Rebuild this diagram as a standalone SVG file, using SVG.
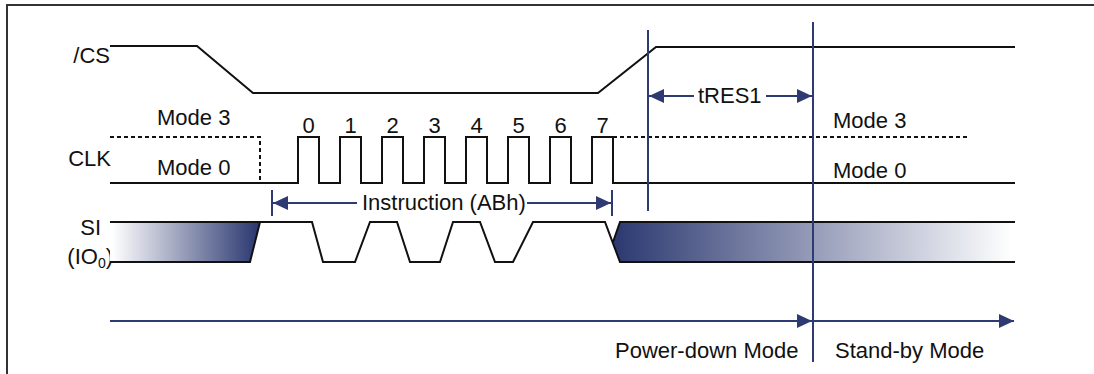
<svg xmlns="http://www.w3.org/2000/svg" width="1094" height="374" viewBox="0 0 1094 374">
<style>
text{font-family:"Liberation Sans",Arial,sans-serif;font-size:22px;fill:#111}
.sig{fill:none;stroke:#111;stroke-width:2;stroke-linejoin:miter}
.dot{fill:none;stroke:#111;stroke-width:2;stroke-dasharray:4 3}
.nv{fill:none;stroke:#2E3B72;stroke-width:2}
.end{text-anchor:end}
</style>
<defs>
<linearGradient id="gL" gradientUnits="userSpaceOnUse" x1="112" y1="0" x2="256" y2="0">
<stop offset="0" stop-color="#ffffff"/>
<stop offset="1" stop-color="#2E3B72"/>
</linearGradient>
<linearGradient id="gR" gradientUnits="userSpaceOnUse" x1="618" y1="0" x2="1012" y2="0">
<stop offset="0" stop-color="#2E3B72"/>
<stop offset="1" stop-color="#ffffff"/>
</linearGradient>
<marker id="ah" viewBox="0 0 15 14" refX="15" refY="7" markerWidth="15" markerHeight="14" markerUnits="userSpaceOnUse" orient="auto-start-reverse">
<path d="M0,0 L15,7 L0,14 Z" fill="#2E3B72"/>
</marker>
</defs>
<rect x="7" y="5" width="1100" height="400" fill="#fff" stroke="#333" stroke-width="2"/>

<g id="cs">
<text class="end" x="110" y="63">/CS</text>
<polyline class="sig" points="110,46 197,46 253,93 598,93 656,47 1015,47"/>
</g>

<g id="clk">
<text class="end" x="111" y="166">CLK</text>
<text x="157" y="125">Mode 3</text>
<text x="157" y="175">Mode 0</text>
<polyline class="dot" points="110,137 260,137 260,183"/>
<polyline class="sig" points="110,183 298,183 298,137 319,137 319,183 340,183 340,137 361,137 361,183 382,183 382,137 403,137 403,183 424,183 424,137 445,137 445,183 466,183 466,137 487,137 487,183 508,183 508,137 529,137 529,183 550,183 550,137 571,137 571,183 592,183 592,137 613,137 613,183 1015,183"/>
<line class="dot" x1="613" y1="137" x2="970" y2="137"/>
<text x="833" y="128">Mode 3</text>
<text x="833" y="178">Mode 0</text>
<g text-anchor="middle">
<text x="308.5" y="133">0</text>
<text x="350.5" y="133">1</text>
<text x="392.5" y="133">2</text>
<text x="434.5" y="133">3</text>
<text x="476.5" y="133">4</text>
<text x="518.5" y="133">5</text>
<text x="560.5" y="133">6</text>
<text x="602.5" y="133">7</text>
</g>
</g>

<g id="si">
<text class="end" x="101" y="235">SI</text>
<text class="end" x="113" y="264">(IO<tspan font-size="14" dy="4">0</tspan><tspan dy="-4">)</tspan></text>
<polygon points="110,222 260,222 250,262 110,262" fill="url(#gL)"/>
<polygon points="613,242 620,222 1015,222 1015,262 620,262" fill="url(#gR)"/>
<polyline class="sig" points="110,222 260,222"/>
<polyline class="sig" points="110,262 250,262 260,222 312,222 323,262 355,262 370,222 397,222 410,262 440,262 453,222 480,222 495,262 513,262 533,222 605,222 620,262 1015,262"/>
<polyline class="sig" points="613,242 620,222 1015,222"/>
</g>

<g id="connectors">
<line class="nv" x1="648" y1="30" x2="648" y2="211"/>
<line class="nv" x1="813" y1="22" x2="813" y2="362"/>
<line class="nv" x1="272" y1="190" x2="272" y2="216"/>
<line class="nv" x1="612" y1="190" x2="612" y2="216"/>
<line class="nv" x1="649" y1="96" x2="694" y2="96" marker-start="url(#ah)"/>
<line class="nv" x1="766" y1="96" x2="812" y2="96" marker-end="url(#ah)"/>
<line class="nv" x1="273" y1="203" x2="357" y2="203" marker-start="url(#ah)"/>
<line class="nv" x1="527" y1="203" x2="611" y2="203" marker-end="url(#ah)"/>
<line class="nv" x1="110" y1="321" x2="812" y2="321" marker-end="url(#ah)"/>
<line class="nv" x1="813" y1="321" x2="1014" y2="321" marker-end="url(#ah)"/>
</g>

<g id="labels">
<text x="698" y="103">tRES1</text>
<text x="362" y="210" font-size="23.4">Instruction (ABh)</text>
<text x="615" y="358">Power-down Mode</text>
<text x="835" y="358">Stand-by Mode</text>
</g>
</svg>
